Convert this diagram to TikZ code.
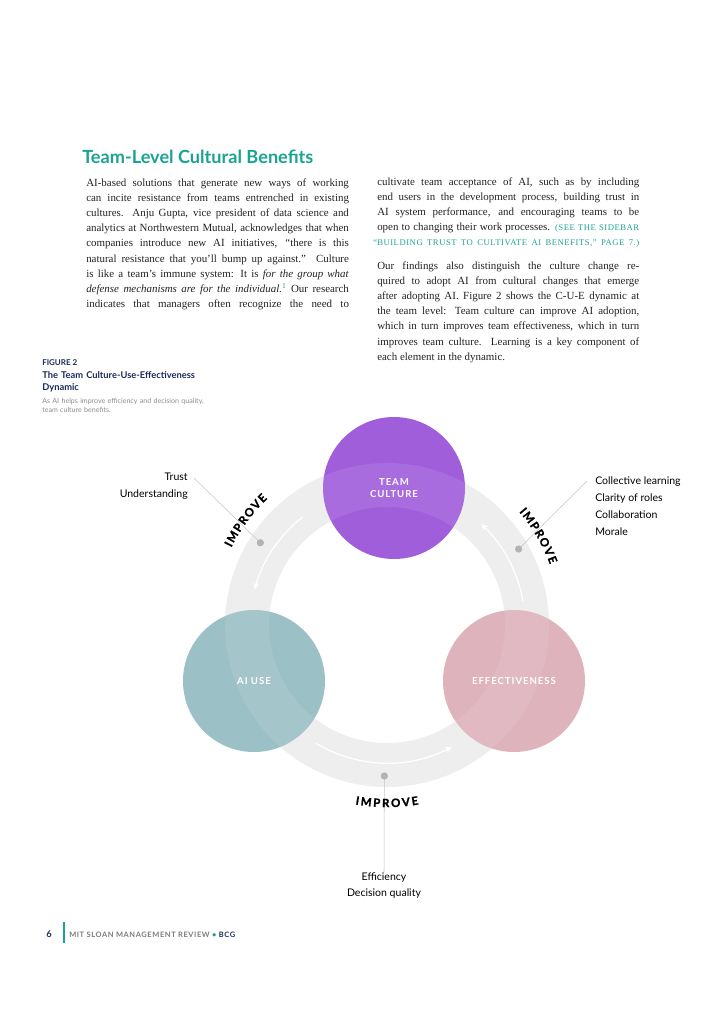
\documentclass[tikz,border=0pt]{standalone}
\usepackage{fontspec}
\setmainfont{Liberation Serif}
\setsansfont{Lato}
\usetikzlibrary{arrows.meta}

\definecolor{cultpurple}{HTML}{A15EDB}
\definecolor{useteal}{HTML}{9BC0C5}
\definecolor{effpink}{HTML}{DEB3BC}
\definecolor{ringgray}{HTML}{EEEEEE}
\definecolor{headteal}{HTML}{1AA392}
\definecolor{capnavy}{HTML}{1B2B5B}
\definecolor{dotgray}{HTML}{B3B3B3}
\definecolor{leadgray}{HTML}{C4C4C4}
\definecolor{footgray}{HTML}{7A7A7A}
\definecolor{subgray}{HTML}{8C8C8C}
\definecolor{inkgray}{HTML}{222222}

\newcommand{\sidebar}[1]{{\color{headteal}\fontsize{6.5}{11.4}\selectfont\addfontfeatures{LetterSpace=6}#1}}

\tikzset{
  body/.style={anchor=base west, inner sep=0pt, text width=197pt, align=justify, text=inkgray,
    font=\fontsize{8.2}{11.4}\selectfont},
  lbl/.style={inner sep=0pt, font=\sffamily\fontsize{7.9}{12.6}\selectfont},
  bubble/.style={circle, minimum size=106.5pt, inner sep=0pt, text=white, align=center,
    font=\sffamily\bfseries\fontsize{7.2}{9}\selectfont\addfontfeatures{LetterSpace=10}},
  improve/.style={inner sep=0pt, font=\sffamily\bfseries\fontsize{8.6}{10}\selectfont\addfontfeatures{FakeBold=1.2}},
  flow/.style={draw=white, line width=0.9pt, -{Stealth[length=5pt, width=4.5pt]}},
  leader/.style={draw=leadgray, line width=0.4pt},
  pindot/.style={circle, fill=dotgray, minimum size=5.2pt, inner sep=0pt}
}

\begin{document}
\begin{tikzpicture}[x=0.75pt, y=0.75pt]
\useasboundingbox (0,0) rectangle (724,-1024);

\node[anchor=base west, inner sep=0pt, text=headteal, font=\sffamily\bfseries\fontsize{13.6}{16}\selectfont] (title) at (82,-163) {Team-Level Cultural Benefits};

\node[body] (colA) at (86,-186) {
AI-based solutions that generate new ways of working\linebreak
can incite resistance from teams entrenched in existing\linebreak
cultures. Anju Gupta, vice president of data science and\linebreak
analytics at Northwestern Mutual, acknowledges that when\linebreak
companies introduce new AI initiatives, “there is this\linebreak
natural resistance that you’ll bump up against.” Culture\linebreak
is like a team’s immune system: It is \textit{for the group what}\linebreak
\textit{defense mechanisms are for the individual.}\textsuperscript{\color{headteal}1} Our research\linebreak
indicates that managers often recognize the need to\linebreak};

\node[body, text width=196.5pt] (colB) at (377,-185) {
cultivate team acceptance of AI, such as by including\linebreak
end users in the development process, building trust in\linebreak
AI system performance, and encouraging teams to be\linebreak
open to changing their work processes. \sidebar{(SEE THE SIDEBAR}\linebreak
\llap{\sidebar{“}}\sidebar{BUILDING TRUST TO CULTIVATE AI BENEFITS,” PAGE 7.)}\linebreak};

\node[body, text width=196.5pt] (colC) at (377,-269) {
Our findings also distinguish the culture change re-\linebreak
quired to adopt AI from cultural changes that emerge\linebreak
after adopting AI. Figure 2 shows the C-U-E dynamic at\linebreak
the team level: Team culture can improve AI adoption,\linebreak
which in turn improves team effectiveness, which in turn\linebreak
improves team culture. Learning is a key component of\linebreak
each element in the dynamic.};

\node[anchor=base west, inner sep=0pt, text=capnavy, font=\sffamily\bfseries\fontsize{6}{7}\selectfont] (figno) at (42,-365) {FIGURE 2};
\node[anchor=base west, inner sep=0pt, text width=200pt, align=left, text=capnavy, font=\sffamily\bfseries\fontsize{7}{9.4}\selectfont] (figtitle) at (42,-378) {The Team Culture-Use-Effectiveness\\Dynamic};
\node[anchor=base west, inner sep=0pt, text width=200pt, align=left, text=subgray, font=\sffamily\fontsize{5.3}{7}\selectfont] (figsub) at (42,-403) {As AI helps improve efficiency and decision quality,\\team culture benefits.};

\coordinate (hub) at (387,-625);
\draw[ringgray, line width=33pt] (hub) circle (140);
\draw[flow] ([shift={(128:137)}]hub) arc[start angle=128, end angle=165, radius=137];
\draw[flow] ([shift={(239:138)}]hub) arc[start angle=239, end angle=298, radius=138];
\draw[flow] ([shift={(10:138)}]hub) arc[start angle=10, end angle=47, radius=138];

\node[bubble, fill=cultpurple] (culture) at (394,-488) {TEAM\\CULTURE};
\node[bubble, fill=useteal] (aiuse) at (254,-681) {AI USE};
\node[bubble, fill=effpink] (effect) at (514,-681) {EFFECTIVENESS};

\begin{scope}
\clip (culture.center) circle (71) (aiuse.center) circle (71) (effect.center) circle (71);
\draw[white, opacity=0.09, line width=33pt] (hub) circle (140);
\end{scope}

\coordinate (tipL) at (194,-478);
\coordinate (tipR) at (587,-481);
\node[pindot] (dotL) at ([shift={(147:151)}]hub) {};
\node[pindot] (dotR) at ([shift={(30:152)}]hub) {};
\node[pindot] (dotB) at ([shift={(269:151)}]hub) {};

\node[lbl, anchor=east, align=right] (leftlbl) at (188,-486) {Trust\\Understanding};
\node[lbl, anchor=west, align=left] (rightlbl) at (595,-506) {Collective learning\\Clarity of roles\\Collaboration\\Morale};
\node[lbl, anchor=north, align=center] (bottomlbl) at (384,-872) {Efficiency\\Decision quality};

\draw[leader] (tipL) -- (dotL.center);
\draw[leader] (tipR) -- (dotR.center);
\draw[leader] (bottomlbl.north) -- (dotB.center);
\node[pindot] at (dotL) {};
\node[pindot] at (dotR) {};
\node[pindot] at (dotB) {};

\foreach \ch/\da in {I/-9.5, M/-6.7, P/-3.3, R/-0.4, O/2.8, V/6.1, E/9.0} {
  \node[improve, rotate={143.5-\da-90}] at ([shift={(143.5-\da:178)}]hub) {\ch};
  \node[improve, rotate={30.5-\da-90}] at ([shift={(30.5-\da:178)}]hub) {\ch};
  \node[improve, rotate={270+\da+90}] at ([shift={(270+\da:178)}]hub) {\ch};
}

\node[anchor=base west, inner sep=0pt, text=capnavy, font=\sffamily\bfseries\fontsize{7}{8}\selectfont] (pgno) at (46,-937) {6};
\draw[headteal, line width=1.1pt] (64,-922) -- (64,-943);
\node[anchor=base west, inner sep=0pt, text=footgray, font=\sffamily\bfseries\fontsize{5.6}{7}\selectfont\addfontfeatures{LetterSpace=8}] (journal) at (69,-937) {MIT SLOAN MANAGEMENT REVIEW \textcolor{headteal}{•} \textcolor{capnavy}{BCG}};
\end{tikzpicture}
\end{document}
